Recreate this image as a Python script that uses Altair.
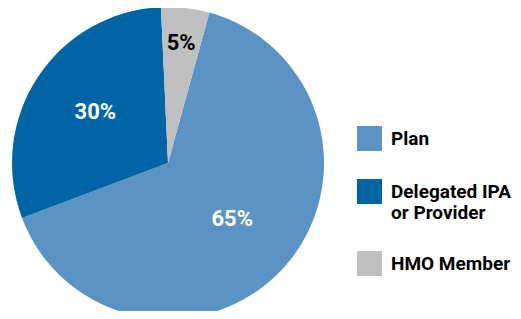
import math
import altair as alt
import pandas as pd

categories = ["Plan", "Delegated IPA or Provider", "HMO Member"]
shares = [65, 30, 5]
pct_labels = ["65%", "30%", "5%"]
colors = ["#5b93c4", "#0065a5", "#bfbfbf"]

df = pd.DataFrame({
    "cat": categories,
    "share": shares,
    "label": pct_labels,
    "idx": list(range(len(categories))),
})

FONT = "Roboto"
a0 = math.radians(15.4)
theta_scale = alt.Scale(domain=[0, sum(shares)], range=[a0, a0 + 2 * math.pi])

base = alt.Chart(df).transform_window(
    cum="sum(share)", sort=[alt.SortField("idx")], frame=[None, 0]
).transform_calculate(
    start="datum.cum - datum.share",
    mid="datum.cum - datum.share / 2",
    r="datum.share < 10 ? 118 : 87",
)

pie = base.mark_arc(outerRadius=156).encode(
    x=alt.value(160),
    y=alt.value(155),
    theta=alt.Theta("start:Q", scale=theta_scale),
    theta2="cum:Q",
    color=alt.Color(
        "cat:N",
        sort=categories,
        scale=alt.Scale(domain=categories, range=colors),
        legend=alt.Legend(
            orient="none",
            legendX=349,
            legendY=118,
            title=None,
            symbolType="square",
            symbolSize=625,
            symbolStrokeWidth=0,
            labelFont=FONT,
            labelFontSize=19,
            labelFontWeight="bold",
            labelColor="black",
            labelOffset=9,
            labelLimit=300,
            labelBaseline="middle",
            labelExpr="datum.label == 'Delegated IPA or Provider' ? ['Delegated IPA', 'or Provider'] : datum.label",
            rowPadding=28,
        ),
    ),
)

text = base.mark_text(font=FONT, fontSize=22, fontWeight="bold", dy=-3).encode(
    x=alt.value(160),
    y=alt.value(155),
    theta=alt.Theta("mid:Q", scale=theta_scale),
    radius=alt.Radius("r:Q", scale=None),
    text="label:N",
    color=alt.condition("datum.share < 10", alt.value("black"), alt.value("white")),
)

chart = (pie + text).properties(
    width=505,
    height=303,
    autosize=alt.AutoSizeParams(type="none"),
    padding=0,
).configure_view(stroke=None)

chart.save("out.html", embed_options={"renderer": "svg", "actions": False})
